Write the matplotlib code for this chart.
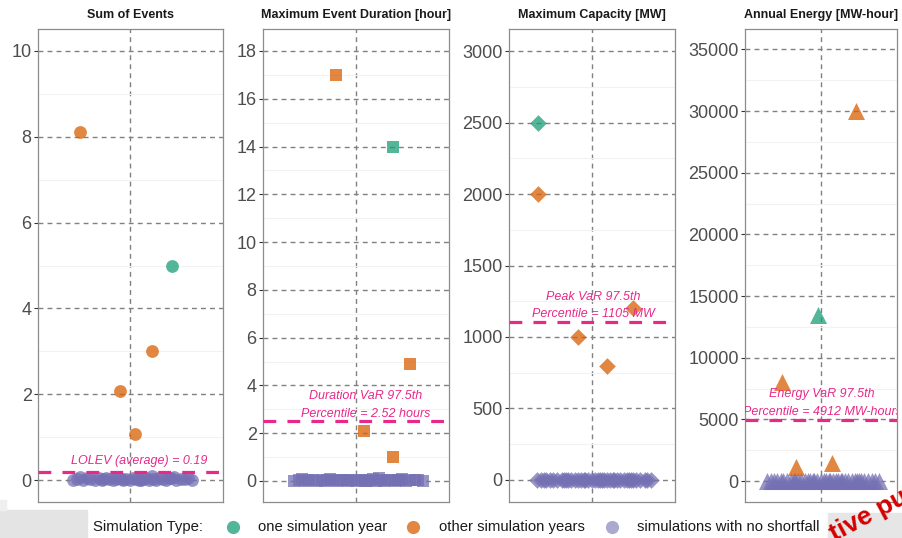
import matplotlib
matplotlib.use("Agg")
import matplotlib.pyplot as plt
from matplotlib.patches import Rectangle
import numpy as np

plt.rcParams['font.family'] = ['Liberation Sans', 'DejaVu Sans']

# ---- data -------------------------------------------------------------
titles = ["Sum of Events", "Maximum Event Duration [hour]",
          "Maximum Capacity [MW]", "Annual Energy [MW-hour]"]
markers = ["o", "s", "D", "^"]

# one simulation year (x offset, value)
one_year_x = [0.27, 0.24, -0.39, -0.02]
one_year_y = [5.0, 14.0, 2500, 13500]

# other simulation years
other_x = [[-0.33, -0.07, 0.03, 0.14],
           [-0.13, 0.24, 0.35, 0.05],
           [-0.39, 0.30, -0.10, 0.11],
           [0.28, -0.31, -0.20, 0.09]]
other_y = [[8.1, 2.07, 1.07, 3.0],
           [17.0, 1.0, 4.9, 2.1],
           [2000, 1200, 1000, 800],
           [30000, 8000, 1100, 1500]]

# simulations with no shortfall: all zero, jittered horizontally
no_shortfall_x = [-0.40, -0.37, -0.33, -0.30, -0.28, -0.25, -0.22, -0.20,
                  -0.17, -0.15, -0.12, -0.10, -0.08, -0.05, -0.03, 0.00,
                  0.02, 0.04, 0.06, 0.09, 0.11, 0.13, 0.16, 0.18, 0.20,
                  0.23, 0.25, 0.27, 0.30, 0.32, 0.35, 0.38, 0.40, 0.43,
                  -0.35, -0.06, 0.07, 0.15, 0.28, -0.19]
no_shortfall_lift = [0.00, 0.03, 0.01, 0.05, 0.02, 0.00, 0.04, 0.01, 0.06,
                     0.02, 0.00, 0.03, 0.05, 0.01, 0.02, 0.00, 0.04, 0.03,
                     0.01, 0.02, 0.06, 0.00, 0.03, 0.01, 0.05, 0.02, 0.00,
                     0.04, 0.07, 0.01, 0.03, 0.02, 0.05, 0.00, 0.08, 0.03,
                     0.01, 0.09, 0.04, 0.02]
lift_scale = [1.0, 1.2, 0.0, 0.0]
jitter_width = [0.93, 1.0, 1.0, 1.06]

# risk reference lines
ref_values = [0.19, 2.52, 1105, 4912]
ref_labels = [["LOLEV (average) = 0.19"],
              ["Duration VaR 97.5th", "Percentile = 2.52 hours"],
              ["Peak VaR 97.5th", "Percentile = 1105 MW"],
              ["Energy VaR 97.5th", "Percentile = 4912 MW-hours"]]
ref_label_y = [[0.45], [3.56, 2.8], [1280, 1160], [7050, 5600]]
ref_label_x = [0.055, 0.06, 0.01, 0.01]

# axes scales
y_limits = [(-0.51, 10.51), (-0.88, 18.92), (-154, 3154), (-1700, 36650)]
y_ticks = [np.arange(0, 11, 2), np.arange(0, 19, 2),
           np.arange(0, 3001, 500), np.arange(0, 35001, 5000)]
y_minor = [np.arange(1, 10, 2), np.arange(1, 19, 2),
           np.arange(250, 3001, 500), np.arange(2500, 35001, 5000)]

legend_labels = ["one simulation year", "other simulation years",
                 "simulations with no shortfall"]

# ---- style --------------------------------------------------------------
GREEN, ORANGE, PURPLE, PINK = "#1B9E77", "#D95F02", "#7570B3", "#E7298A"
ALPHA = 0.75
W, H = 903, 538
panels_px = [(38, 223), (263, 449), (509, 675), (745, 897)]
top_px, bot_px = 29, 502
marker_size = [85, 72, 72, 150]

fig = plt.figure(figsize=(W / 100, H / 100), dpi=100)

for i in range(4):
    l, r = panels_px[i]
    ax = fig.add_axes([l / W, 1 - bot_px / H, (r - l) / W, (bot_px - top_px) / H])
    ax.set_xlim(-0.6, 0.6)
    ax.set_ylim(*y_limits[i])
    ax.set_yticks(y_ticks[i])
    ax.set_yticks(y_minor[i], minor=True)
    ax.set_xticks([0])
    ax.set_xticklabels([])
    ax.tick_params(axis='x', length=0)
    ax.tick_params(axis='y', which='major', labelsize=13, labelcolor="#4D4D4D",
                   color="#333333", length=3, width=0.8, pad=1.5)
    ax.tick_params(axis='y', which='minor', length=0)
    for s in ax.spines.values():
        s.set_color("#8C8C8C")
        s.set_linewidth(0.9)
    ax.set_axisbelow(True)
    ax.grid(True, which='minor', axis='y', color="#F2F2F2", lw=0.8, ls='-')
    ax.grid(True, which='major', axis='both', color="#808080", lw=1.0,
            ls=(0, (3.5, 3)))

    # no-shortfall points
    px = [jitter_width[i] * v for v in no_shortfall_x]
    py = [lift_scale[i] * v for v in no_shortfall_lift]
    ax.scatter(px, py, s=marker_size[i], marker=markers[i],
               color=PURPLE, alpha=ALPHA, linewidths=0, zorder=3)
    ax.scatter(other_x[i], other_y[i], s=marker_size[i], marker=markers[i],
               color=ORANGE, alpha=ALPHA, linewidths=0, zorder=3)
    ax.scatter([one_year_x[i]], [one_year_y[i]], s=marker_size[i],
               marker=markers[i], color=GREEN, alpha=ALPHA, linewidths=0,
               zorder=3)

    ax.axhline(ref_values[i], color=PINK, lw=2.3, ls=(0, (4, 3.5)), zorder=4)
    for txt, ty in zip(ref_labels[i], ref_label_y[i]):
        ax.text(ref_label_x[i], ty, txt, color=PINK, fontsize=9,
                style='italic', ha='center', va='center', zorder=5,
                clip_on=True)

    ax.set_title(titles[i], fontsize=9, fontweight='bold', pad=8,
                 color="#1A1A1A")

# ---- legend -------------------------------------------------------------
ly = 1 - 527 / H
fig.text(93 / W, ly, "Simulation Type:", fontsize=10.7, va='center',
         ha='left', color="#1A1A1A")
leg_dot_x = [233, 413, 612]
leg_txt_x = [258, 439, 637]
for c, dx, tx, lab in zip([GREEN, ORANGE, PURPLE], leg_dot_x, leg_txt_x,
                          legend_labels):
    fig.add_artist(plt.Line2D([dx / W], [ly], marker='o', markersize=9.5,
                              color=c, alpha=ALPHA if c != PURPLE else 0.6,
                              markeredgewidth=0, transform=fig.transFigure))
    fig.text(tx / W, ly, lab, fontsize=10.7, va='center', ha='left',
             color="#1A1A1A")

# ---- page overlay in the lower corners -------------------------------
fig.add_artist(Rectangle((0, 0), 87 / W, 28 / H, transform=fig.transFigure,
                         color="#E4E4E4", zorder=0))
fig.add_artist(Rectangle((0, 28 / H), 6 / W, 10 / H, transform=fig.transFigure,
                         color="#EFEFEF", zorder=0))
fig.add_artist(Rectangle((828 / W, 0), 75 / W, 25 / H, transform=fig.transFigure,
                         color="#E6E6E6", zorder=0))
fig.text(826 / W, -8 / H, "tive pu", fontsize=19, fontweight='bold',
         color="#D40000", rotation=28, ha='left', va='bottom')

fig.savefig("out.png", dpi=100)
